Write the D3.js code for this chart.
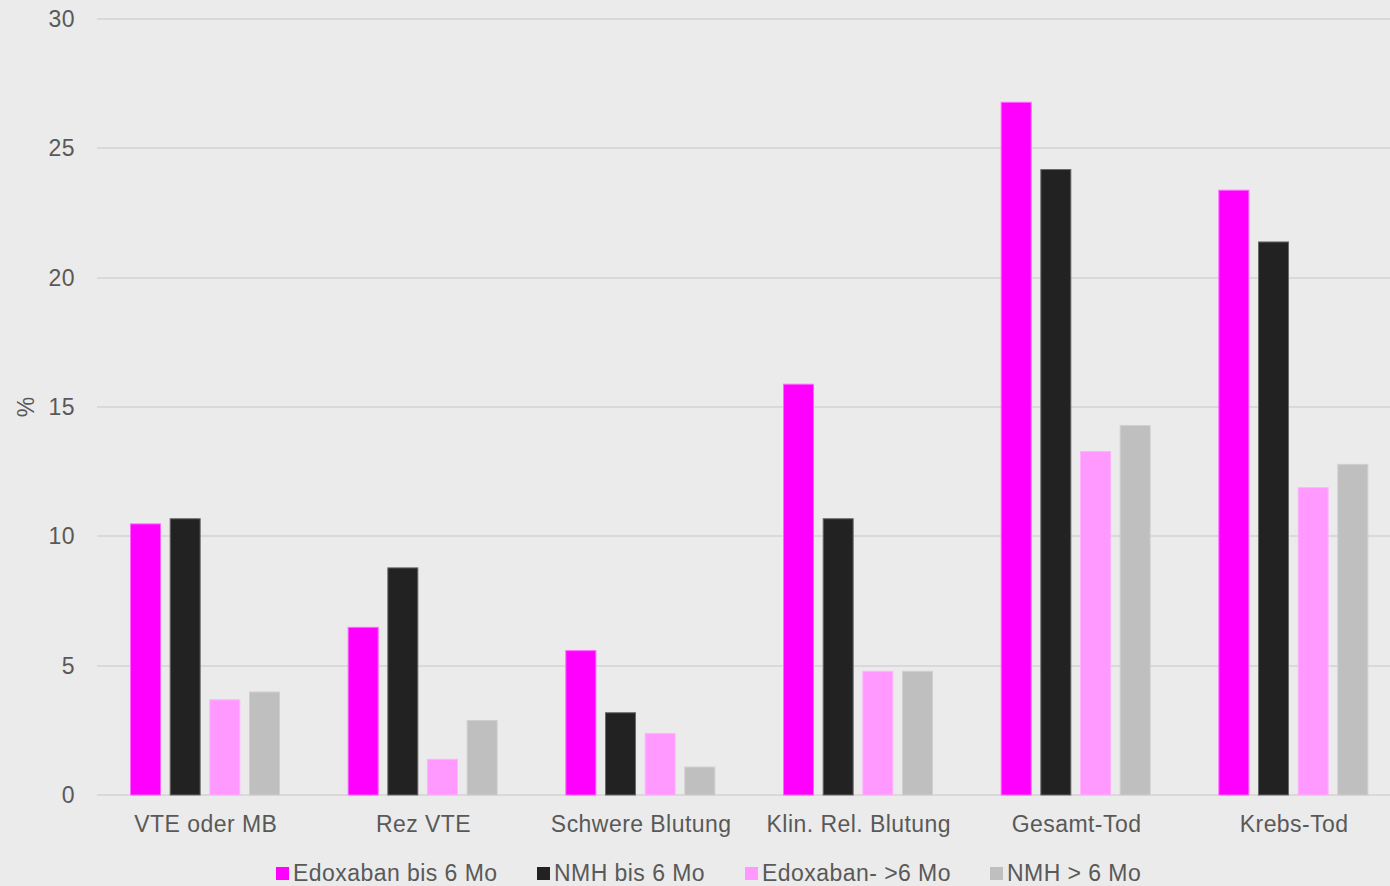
<!DOCTYPE html>
<html><head><meta charset="utf-8">
<script src="https://cdn.jsdelivr.net/npm/d3@7"></script>
<style>
html,body{margin:0;padding:0;background:#EBEBEB;overflow:hidden}
svg{display:block;font-family:"Liberation Sans",Arial,sans-serif}
</style></head>
<body><svg id="c" width="1390" height="886"></svg>
<script>
const categories = ["VTE oder MB","Rez VTE","Schwere Blutung","Klin. Rel. Blutung","Gesamt-Tod","Krebs-Tod"];
const seriesNames = ["Edoxaban bis 6 Mo","NMH bis 6 Mo","Edoxaban- >6 Mo","NMH > 6 Mo"];
const edoxaban6 = [10.5, 6.5, 5.6, 15.9, 26.8, 23.4];
const nmh6 = [10.7, 8.8, 3.2, 10.7, 24.2, 21.4];
const edoxabanGt6 = [3.7, 1.4, 2.4, 4.8, 13.3, 11.9];
const nmhGt6 = [4.0, 2.9, 1.1, 4.8, 14.3, 12.8];
const yTicks = [0,5,10,15,20,25,30];
const colors = ["#FF00FF","#222222","#FF99FF","#BFBFBF"];
const strokes = ["#FF66FF","#6a6a6a","#FFB3FF","#CFCFCF"];

(function(){
const series = [edoxaban6, nmh6, edoxabanGt6, nmhGt6];
const svg = d3.select("#c");
const pLeft = 97, pRight = 1403, pTop = 19, pBottom = 795;
const FS = 23;
const x0 = d3.scaleBand().domain(categories).range([pLeft, pRight]).paddingInner(0).paddingOuter(0);
const x1 = d3.scaleBand().domain(d3.range(4)).range([33, 183]).paddingInner(0.218).paddingOuter(0);
const y = d3.scaleLinear().domain([0,30]).range([pBottom, pTop]);

svg.append("g").selectAll("line").data(yTicks).join("line")
  .attr("x1", pLeft).attr("x2", 1390)
  .attr("y1", d => Math.round(y(d))).attr("y2", d => Math.round(y(d)))
  .attr("stroke", "#D9D9D9").attr("stroke-width", 2);

const yAxis = d3.axisLeft(y).tickValues(yTicks).tickSize(0).tickPadding(0);
const ya = svg.append("g").attr("transform", `translate(75,0)`).call(yAxis);
ya.select(".domain").remove();
ya.selectAll("text").attr("fill","#595959").attr("font-size", FS).attr("font-family","Liberation Sans, Arial, sans-serif").attr("letter-spacing", 0.5);

svg.append("text").attr("transform","translate(34,407) rotate(-90)")
  .attr("text-anchor","middle").attr("fill","#595959").attr("font-size",FS).text("%");

const g = svg.append("g");
categories.forEach((c, ci) => {
  series.forEach((s, si) => {
    g.append("rect")
      .attr("x", x0(c) + x1(si)+0.5)
      .attr("y", y(s[ci])+0.5)
      .attr("width", x1.bandwidth()-1)
      .attr("height", y(0) - y(s[ci]) - 0.5)
      .attr("fill", colors[si])
      .attr("stroke", strokes[si]).attr("stroke-width", 1);
  });
});

const xAxis = d3.axisBottom(x0).tickSize(0).tickPadding(0);
const xa = svg.append("g").attr("transform", `translate(0,${pBottom+37})`).call(xAxis);
xa.select(".domain").remove();
xa.selectAll("text").attr("fill","#595959").attr("font-size",FS).attr("font-family","Liberation Sans, Arial, sans-serif").attr("dy",0).attr("letter-spacing", 0.45);

const legendX = [276, 537, 745, 990];
const lg = svg.append("g");
seriesNames.forEach((n, i) => {
  lg.append("rect").attr("x", legendX[i]).attr("y", 867).attr("width", 13).attr("height", 13).attr("fill", colors[i]);
  lg.append("text").attr("x", legendX[i]+17).attr("y", 881).attr("fill","#595959").attr("font-size",FS).attr("letter-spacing", 0.45).text(n);
});
})();
</script></body></html>
